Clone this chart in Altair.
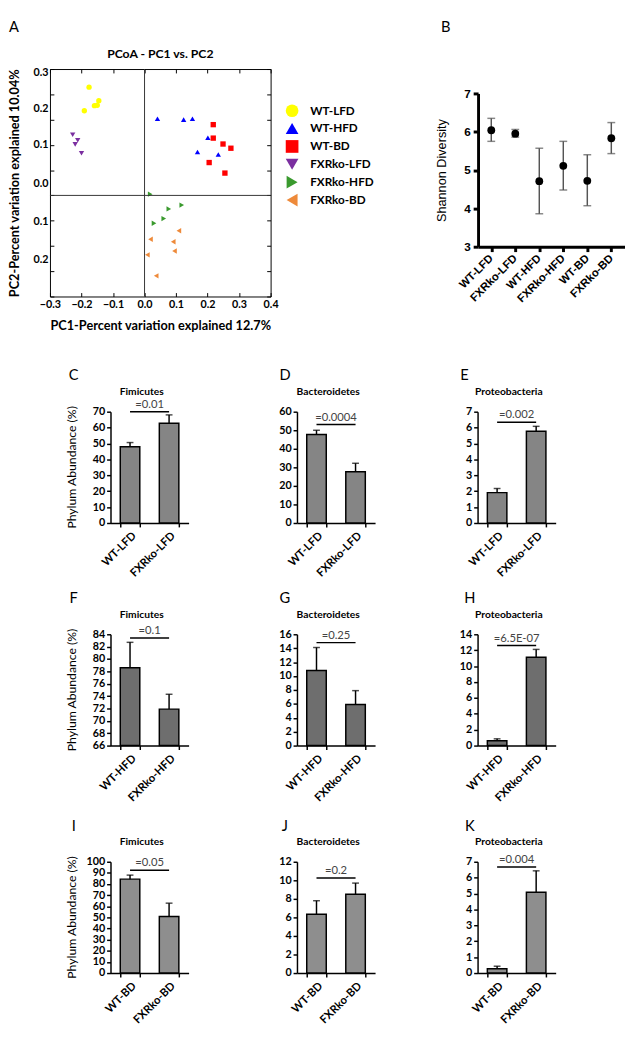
import altair as alt
import pandas as pd

FONT = "Lato"
ARIAL = "Liberation Sans"

# ---------------- Panel A: PCoA ----------------
pcoa_groups = ["WT-LFD", "WT-HFD", "WT-BD", "FXRko-LFD", "FXRko-HFD", "FXRko-BD"]
pcoa_colors = ["#FFFF00", "#0000FF", "#FF0000", "#7B2FA0", "#3A9A2E", "#EE8A3A"]
pcoa_shapes = ["circle", "triangle-up", "square", "triangle-down", "triangle-right", "triangle-left"]

wt_lfd_pc1 = [-0.176, -0.159, -0.150, -0.145, -0.191]
wt_lfd_pc2 = [0.257, 0.213, 0.214, 0.225, 0.201]
fx_lfd_pc1 = [-0.228, -0.212, -0.220, -0.200]
fx_lfd_pc2 = [0.144, 0.131, 0.121, 0.100]
wt_hfd_pc1 = [0.041, 0.124, 0.152, 0.201, 0.168, 0.234]
wt_hfd_pc2 = [0.182, 0.180, 0.182, 0.137, 0.103, 0.097]
wt_bd_pc1 = [0.218, 0.218, 0.249, 0.274, 0.205, 0.255]
wt_bd_pc2 = [0.168, 0.136, 0.122, 0.112, 0.078, 0.053]
fx_hfd_pc1 = [0.018, 0.118, 0.077, 0.061, 0.030]
fx_hfd_pc2 = [0.003, -0.023, -0.032, -0.055, -0.066]
fx_bd_pc1 = [0.109, 0.019, 0.091, 0.095, 0.009, 0.037]
fx_bd_pc2 = [-0.084, -0.104, -0.110, -0.132, -0.141, -0.191]

pc1_ticks = [-0.3, -0.2, -0.1, 0.0, 0.1, 0.2, 0.3, 0.4]
pc2_ticks = [-0.24, -0.18, -0.12, -0.06, 0.0, 0.06, 0.12, 0.18, 0.24, 0.30]
pc2_label_pos = [0.291, 0.207, 0.121, 0.029, -0.061, -0.153, -0.241]
pc2_label_text = ["0.3", "0.2", "0.1", "0.0", "0.1", "0.2", "0.3"]

# ---------------- Panel B: Shannon ----------------
shannon_groups = ["WT-LFD", "FXRko-LFD", "WT-HFD", "FXRko-HFD", "WT-BD", "FXRko-BD"]
shannon_mean = [6.04, 5.95, 4.71, 5.11, 4.72, 5.83]
shannon_low = [5.75, 5.86, 3.86, 4.48, 4.07, 5.43]
shannon_high = [6.35, 6.06, 5.57, 5.75, 5.40, 6.24]

# ---------------- Panels C-K: phylum abundance ----------------
phyla = ["Fimicutes", "Bacteroidetes", "Proteobacteria"]
diet_groups = [["WT-LFD", "FXRko-LFD"], ["WT-HFD", "FXRko-HFD"], ["WT-BD", "FXRko-BD"]]
letters = [["C", "D", "E"], ["F", "G", "H"], ["I", "J", "K"]]

lfd_means = [[48.0, 62.7], [47.7, 27.6], [1.91, 5.77]]
lfd_upper = [[50.6, 68.0], [50.0, 32.2], [2.17, 6.08]]
hfd_means = [[78.6, 71.9], [10.8, 5.9], [0.6, 11.1]]
hfd_upper = [[82.7, 74.3], [14.1, 7.9], [0.85, 12.1]]
bd_means = [[84.4, 50.8], [6.35, 8.5], [0.27, 5.08]]
bd_upper = [[88.0, 62.8], [7.8, 9.7], [0.43, 6.43]]
means = [lfd_means, hfd_means, bd_means]
uppers = [lfd_upper, hfd_upper, bd_upper]

y_min = [[0, 0, 0], [66, 0, 0], [0, 0, 0]]
y_max = [[70, 60, 7], [84, 16, 14], [100, 12, 7]]
y_step = [[10, 10, 1], [2, 2, 2], [10, 2, 1]]
sig_y = [[70, 53.1, 6.34], [83.4, 14.8, 12.6], [92.3, 10.25, 6.67]]
p_text = [["=0.01", "=0.0004", "=0.002"], ["=0.1", "=0.25", "=6.5E-07"], ["=0.05", "=0.2", "=0.004"]]
y_title = "Phylum Abundance (%)"

row_fills = ["#858585", "#6e6e6e", "#8e8e8e"]

# ---------------- layout constants ----------------
AW, AH = 226, 233
BW, BH = 150, 157
PW, PH = 80, 114
y_ext = [47, 30.6, 24.4]
x_ext = [59.5, 64.5, 0]
letter_dx = [[-37.7, -12.3, -13.4], [-37.7, -12.3, -8], [-37.7, -12.3, -8]]
left_pad = 14.2      # empty room left of the C/F/I panels
b_drop = 18.5        # B plot sits lower than A plot
ab_gap = 160.5       # gap between panel A and panel B

inward = {"expr": "-4"}


def text_layer(txt, x, y, **kw):
    return alt.Chart(pd.DataFrame({"t": [txt]})).mark_text(**kw).encode(
        text="t:N", x=alt.value(x), y=alt.value(y)
    )


# ---------- A ----------
rows = []
for g, xs, ys in [
    ("WT-LFD", wt_lfd_pc1, wt_lfd_pc2),
    ("FXRko-LFD", fx_lfd_pc1, fx_lfd_pc2),
    ("WT-HFD", wt_hfd_pc1, wt_hfd_pc2),
    ("WT-BD", wt_bd_pc1, wt_bd_pc2),
    ("FXRko-HFD", fx_hfd_pc1, fx_hfd_pc2),
    ("FXRko-BD", fx_bd_pc1, fx_bd_pc2),
]:
    for xv, yv in zip(xs, ys):
        rows.append({"group": g, "pc1": xv, "pc2": yv})
pcoa_df = pd.DataFrame(rows)

xscA = alt.Scale(domain=[-0.3, 0.4], nice=False, zero=False)
yscA = alt.Scale(domain=[-0.24, 0.30], nice=False, zero=False)
lab_expr = (
    f"indexof({pc2_label_pos}, datum.value) < 0 ? '' : "
    f"{pc2_label_text}[indexof({pc2_label_pos}, datum.value)]"
)

pointsA = alt.Chart(pcoa_df).transform_calculate(
    shape_group="datum.group"
).mark_point(filled=True, size=30, opacity=1).encode(
    x=alt.X(
        "pc1:Q", scale=xscA,
        axis=alt.Axis(
            orient="bottom", values=pc1_ticks, format=".1f",
            title="PC1-Percent variation explained 12.7%",
            tickSize=inward, labelFont=FONT, labelFontWeight="bold", labelFontSize=11,
            labelPadding=6, titleFont=FONT, titleFontWeight="bold", titleFontSize=13,
            titlePadding=7, minExtent=17,
        ),
    ),
    y=alt.Y(
        "pc2:Q", scale=yscA,
        axis=alt.Axis(
            orient="left", values=pc2_ticks + pc2_label_pos, labelExpr=lab_expr,
            labelOverlap=False,
            tickOpacity={"condition": {"test": f"indexof({pc2_label_pos}, datum.value) >= 0", "value": 0}, "value": 1},
            title="PC2-Percent variation explained 10.04%",
            tickSize=inward, labelFont=FONT, labelFontWeight="bold", labelFontSize=11,
            labelPadding=6, titleFont=FONT, titleFontWeight="bold", titleFontSize=13,
            titlePadding=5, minExtent=24,
        ),
    ),
    color=alt.Color(
        "group:N", scale=alt.Scale(domain=pcoa_groups, range=pcoa_colors),
        legend=alt.Legend(
            orient="none", legendX=241.5, legendY=36.2, title=None, symbolType="circle",
            symbolSize=169, symbolStrokeWidth=0, symbolOpacity=1, labelFont=FONT,
            labelFontWeight="bold", labelFontSize=12, labelColor="black", labelOffset=12,
            rowPadding=5.3, padding=0,
        ),
    ),
    shape=alt.Shape("shape_group:N", scale=alt.Scale(domain=pcoa_groups, range=pcoa_shapes), legend=None),
)

vruleA = alt.Chart(pd.DataFrame({"x0": [0.0]})).mark_rule(color="#333333", strokeWidth=1).encode(
    x=alt.X("x0:Q", scale=xscA, axis=alt.Axis(orient="top", values=pc1_ticks, labels=False,
                                               tickSize=inward, title=None))
)
hruleA = alt.Chart(pd.DataFrame({"y0": [0.0]})).mark_rule(color="#333333", strokeWidth=1).encode(
    y=alt.Y("y0:Q", scale=yscA, axis=alt.Axis(orient="right", values=pc2_ticks, labels=False,
                                               tickSize=inward, title=None))
)

chartA = alt.layer(
    pointsA, vruleA, hruleA,
    text_layer("A", -37, -42.8, font=FONT, fontSize=15, align="center", baseline="middle"),
    text_layer("PCoA - PC1 vs. PC2", AW / 2, -15, font=FONT, fontSize=12.5, fontWeight="bold",
               align="center", baseline="middle"),
).resolve_axis(x="independent", y="independent").properties(width=AW, height=AH)

# ---------- B ----------
shannon_df = pd.DataFrame({"group": shannon_groups, "mean": shannon_mean,
                           "low": shannon_low, "high": shannon_high})
xscB = alt.Scale(type="point", domain=shannon_groups, padding=0.55)
yscB = alt.Scale(domain=[3, 7], nice=False, zero=False)
xaxB = alt.Axis(
    title=None, labelAngle=-45, labelAlign="right", labelBaseline="middle",
    labelFont=ARIAL, labelFontWeight="bold", labelFontSize=11.5, labelPadding=5,
    tickSize=5, tickWidth=3, domainWidth=3, minExtent=114.2)
yaxB = alt.Axis(
    values=[3, 4, 5, 6, 7], title="Shannon Diversity", titleFont=ARIAL,
    titleFontSize=13, titleFontWeight="normal", titlePadding=8.5, minExtent=22,
    labelFont=ARIAL, labelFontWeight="bold", labelFontSize=12, labelPadding=3,
    tickSize=5, tickWidth=3, domainWidth=3)

errB = alt.Chart(shannon_df).mark_rule(color="#555555", strokeWidth=1.5).encode(
    x=alt.X("group:N", scale=xscB, axis=xaxB),
    y=alt.Y("low:Q", scale=yscB, axis=yaxB),
    y2="high:Q",
)
capLowB = alt.Chart(shannon_df).mark_tick(color="#555555", size=8, thickness=1.5).encode(
    x=alt.X("group:N", scale=xscB, axis=xaxB), y=alt.Y("low:Q", scale=yscB, axis=yaxB))
capHighB = alt.Chart(shannon_df).mark_tick(color="#555555", size=8, thickness=1.5).encode(
    x=alt.X("group:N", scale=xscB, axis=xaxB), y=alt.Y("high:Q", scale=yscB, axis=yaxB))
ptsB = alt.Chart(shannon_df).mark_circle(color="black", size=64, opacity=1).encode(
    x=alt.X("group:N", scale=xscB, axis=xaxB), y=alt.Y("mean:Q", scale=yscB, axis=yaxB))

chartB = alt.layer(errB, capLowB, capHighB, ptsB).properties(width=BW, height=BH)
headB = text_layer("B", -33, -42.8, font=FONT, fontSize=15, align="center",
                   baseline="middle").properties(width=BW, height=b_drop)
colB = alt.vconcat(headB, chartB, spacing=0)


# ---------- C-K ----------
def bar_panel(r, c):
    cats = diet_groups[r]
    df = pd.DataFrame({"group": cats, "mean": means[r][c], "upper": uppers[r][c]})
    lo, hi, st = y_min[r][c], y_max[r][c], y_step[r][c]
    yvals = list(range(lo, hi + st, st))
    xsc = alt.Scale(domain=cats, paddingInner=0.5, paddingOuter=0.25)
    ysc = alt.Scale(domain=[lo, hi], nice=False, zero=False)
    x_axis = alt.Axis(
        title=None, labelAngle=-45, labelAlign="right", labelBaseline="top",
        labelFont=FONT, labelFontWeight="bold", labelFontSize=11.5, labelPadding=3,
        tickBand="extent", tickSize=4, tickWidth=1.5, domainWidth=1.5, minExtent=x_ext[r])
    y_axis = alt.Axis(
        title=None, values=yvals, labelFont=FONT, labelFontWeight="bold", labelFontSize=11,
        tickSize=4, tickWidth=1.5, domainWidth=1.5, labelPadding=2, minExtent=y_ext[c])

    bars = alt.Chart(df).mark_bar(fill=row_fills[r], stroke="black", strokeWidth=1.5).encode(
        x=alt.X("group:N", scale=xsc, axis=x_axis),
        y=alt.Y("mean:Q", scale=ysc, axis=y_axis),
        y2=alt.datum(lo),
    )
    err = alt.Chart(df).mark_rule(color="black", strokeWidth=1.5).encode(
        x=alt.X("group:N", scale=xsc, axis=x_axis),
        y=alt.Y("mean:Q", scale=ysc, axis=y_axis), y2="upper:Q")
    cap = alt.Chart(df).mark_tick(color="black", size=7, thickness=1.5).encode(
        x=alt.X("group:N", scale=xsc, axis=x_axis),
        y=alt.Y("upper:Q", scale=ysc, axis=y_axis))
    sig_df = pd.DataFrame({"a": [cats[0]], "b": [cats[1]], "y": [sig_y[r][c]], "p": [p_text[r][c]]})
    sig = alt.Chart(sig_df).mark_rule(color="black", strokeWidth=1.5).encode(
        x=alt.X("a:N", scale=xsc, axis=x_axis), x2="b:N",
        y=alt.Y("y:Q", scale=ysc, axis=y_axis))
    ptxt = alt.Chart(sig_df).mark_text(font=FONT, fontSize=11.5, color="#444444", dx=20, dy=-2,
                                       align="center", baseline="bottom").encode(
        x=alt.X("a:N", scale=xsc, axis=x_axis),
        y=alt.Y("y:Q", scale=ysc, axis=y_axis), text="p:N")
    layers = [bars, err, cap, sig, ptxt,
              text_layer(letters[r][c], letter_dx[r][c], -37, font=FONT, fontSize=15,
                         align="center", baseline="middle"),
              text_layer(phyla[c], PW / 2 - 8, -20, font=FONT, fontSize=10.5, fontWeight="bold",
                         align="center", baseline="middle")]
    if c == 0:
        layers.append(text_layer(y_title, -39.7, PH / 2, font=FONT, fontSize=12.5, angle=270,
                                 align="center", baseline="middle"))
    return alt.layer(*layers).properties(width=PW, height=PH)


def spacer():
    return text_layer("", 0, 0).properties(width=left_pad, height=10)


rowAB = alt.hconcat(chartA, colB, spacing=ab_gap)
bar_rows = [
    alt.hconcat(spacer(), alt.hconcat(*[bar_panel(r, c) for c in range(3)], spacing=80), spacing=0)
    for r in range(3)
]

chart = alt.vconcat(rowAB, *bar_rows, spacing=10).properties(
    padding=0, background="white"
).configure_view(stroke=None).configure_axis(
    labelFlush=False, grid=False, labelColor="black", tickColor="black",
    domainColor="black", titleColor="black"
)

chart.save("out.html", embed_options={"renderer": "svg", "actions": False})
